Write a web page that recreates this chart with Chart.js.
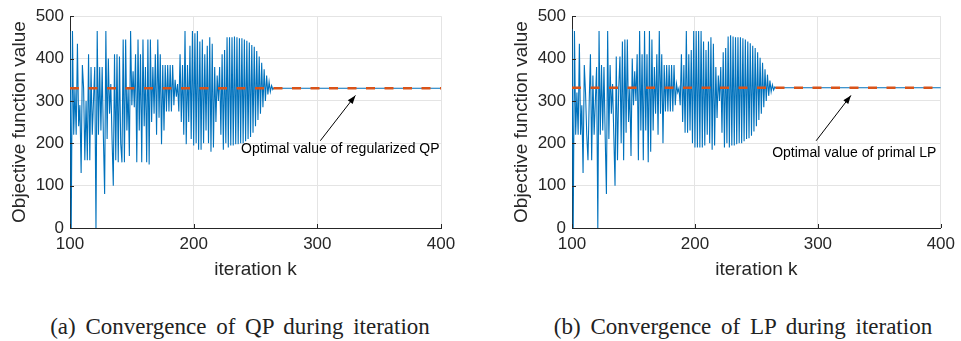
<!DOCTYPE html>
<html>
<head>
<meta charset="utf-8">
<script src="https://cdn.jsdelivr.net/npm/chart.js@4/dist/chart.umd.min.js"></script>
<style>
  body { margin: 0; background: #fff; width: 961px; height: 341px; overflow: hidden; position: relative; }
  canvas { position: absolute; top: 0; }
  #qp { left: 0; }
  #lp { left: 502px; }
  .caption { position: absolute; top: 314px; width: 480px; text-align: center;
             font-family: "Liberation Serif", serif; font-size: 23px; word-spacing: 4px; color: #222; }
</style>
</head>
<body>
<canvas id="qp" width="480" height="290"></canvas>
<canvas id="lp" width="459" height="290"></canvas>
<div class="caption" style="left:0">(a) Convergence of QP during iteration</div>
<div class="caption" style="left:503px">(b) Convergence of LP during iteration</div>
<script>
// iteracije krecu od 100, jedna vrijednost po iteraciji
const startIter = 100;
const endIter = 400;
const xTicks = [100, 200, 300, 400];
const yTicks = [0, 100, 200, 300, 400, 500];

// (a) QP, k = 100 .. 266
const qpValues = [
  465, 0, 465, 220, 330, 220, 435, 240, 290, 130,
  385, 330, 160, 300, 160, 410, 160, 380, 220, 300,
  380, 0, 465, 220, 380, 230, 380, 215, 80, 465,
  210, 400, 270, 340, 210, 100, 410, 160, 410, 155,
  405, 200, 155, 445, 155, 445, 230, 330, 170, 465,
  290, 370, 285, 410, 155, 445, 230, 410, 155, 445,
  240, 380, 155, 445, 150, 445, 250, 380, 270, 410,
  220, 445, 260, 410, 198, 385, 230, 385, 275, 385,
  275, 385, 275, 385, 290, 350, 310, 340, 275, 410,
  250, 385, 220, 465, 198, 385, 250, 430, 210, 465,
  195, 460, 200, 465, 185, 440, 185, 445, 200, 410,
  230, 430, 200, 450, 180, 435, 190, 380, 250, 360,
  300, 380, 220, 410, 185, 420, 200, 450, 190, 450,
  195, 450, 195, 452, 198, 450, 198, 448, 200, 448,
  200, 445, 205, 442, 210, 438, 215, 432, 225, 428,
  240, 418, 255, 405, 270, 390, 285, 375, 300, 360,
  315, 345, 322, 336, 327, 331, 330
];
const qpOptimal = 330;

// (b) LP, k = 100 .. 268
const lpValues = [
  470, 0, 465, 220, 320, 220, 435, 220, 290, 130,
  385, 320, 220, 160, 300, 410, 160, 360, 220, 300,
  380, 0, 465, 220, 385, 230, 380, 215, 80, 465,
  210, 385, 270, 340, 220, 100, 405, 160, 330, 405,
  200, 440, 160, 445, 225, 445, 250, 330, 170, 400,
  290, 370, 300, 410, 160, 465, 230, 410, 160, 465,
  230, 410, 155, 465, 180, 445, 230, 380, 270, 410,
  220, 465, 270, 410, 200, 385, 275, 385, 275, 385,
  275, 385, 275, 385, 290, 340, 320, 330, 290, 410,
  250, 385, 225, 465, 225, 410, 230, 420, 200, 465,
  190, 465, 190, 465, 190, 465, 190, 440, 195, 420,
  220, 440, 200, 450, 185, 435, 195, 380, 260, 360,
  300, 380, 225, 415, 190, 425, 200, 452, 190, 455,
  195, 452, 195, 450, 198, 450, 200, 450, 200, 448,
  205, 445, 210, 440, 212, 436, 218, 430, 228, 425,
  240, 415, 255, 402, 270, 390, 285, 375, 300, 362,
  312, 348, 322, 338, 326, 333, 330, 331, 331
];
const lpOptimal = 331;

const axisColor = '#262626';
const sans = '"Liberation Sans", Arial, sans-serif';

// anotacija sa strelicom (koordinate u jedinicama osa)
const notePlugin = {
  id: 'note',
  afterDatasetsDraw(chart, args, opts) {
    const c = chart.ctx, xs = chart.scales.x, ys = chart.scales.y;
    // unutrasnji tickovi kao u MATLAB-u
    c.save();
    c.strokeStyle = axisColor;
    c.lineWidth = 1;
    xTicks.forEach(v => {
      const px = Math.round(xs.getPixelForValue(v)) + 0.5;
      c.beginPath(); c.moveTo(px, ys.bottom); c.lineTo(px, ys.bottom - 4); c.stroke();
    });
    yTicks.forEach(v => {
      const py = Math.round(ys.getPixelForValue(v)) + 0.5;
      c.beginPath(); c.moveTo(xs.left, py); c.lineTo(xs.left + 4, py); c.stroke();
    });
    // strelica
    const x0 = xs.getPixelForValue(opts.from[0]), y0 = ys.getPixelForValue(opts.from[1]);
    const x1 = xs.getPixelForValue(opts.to[0]), y1 = ys.getPixelForValue(opts.to[1]);
    c.strokeStyle = '#000';
    c.fillStyle = '#000';
    c.beginPath(); c.moveTo(x0, y0); c.lineTo(x1, y1); c.stroke();
    const ang = Math.atan2(y1 - y0, x1 - x0);
    c.beginPath();
    c.moveTo(x1, y1);
    c.lineTo(x1 - 9 * Math.cos(ang - 0.35), y1 - 9 * Math.sin(ang - 0.35));
    c.lineTo(x1 - 9 * Math.cos(ang + 0.35), y1 - 9 * Math.sin(ang + 0.35));
    c.closePath(); c.fill();
    c.font = '14px ' + sans;
    c.textAlign = 'center';
    c.textBaseline = 'middle';
    c.fillText(opts.text, xs.getPixelForValue(opts.at[0]), ys.getPixelForValue(opts.at[1]));
    c.restore();
  }
};

function nacrtaj(id, values, optimal, padRight, note) {
  const points = values.map((v, i) => ({ x: startIter + i, y: v }));
  points.push({ x: endIter, y: optimal });

  new Chart(document.getElementById(id), {
    type: 'line',
    data: {
      datasets: [
        {
          data: [{ x: startIter, y: optimal }, { x: endIter, y: optimal }],
          borderColor: '#D95319',
          borderWidth: 2.6,
          borderDash: [9, 9.5],
          pointRadius: 0,
          order: 0
        },
        {
          data: points,
          borderColor: '#0072BD',
          borderWidth: 1.1,
          pointRadius: 0,
          tension: 0,
          order: 1
        }
      ]
    },
    options: {
      responsive: false,
      animation: false,
      layout: { padding: { top: 14, right: padRight, bottom: 0, left: 0 } },
      plugins: { legend: { display: false }, tooltip: { enabled: false }, note: note },
      scales: {
        x: {
          type: 'linear',
          min: startIter,
          max: endIter,
          afterBuildTicks: s => { s.ticks = xTicks.map(v => ({ value: v })); },
          afterFit: s => { s.height = 62; },
          ticks: { color: axisColor, font: { family: sans, size: 17 }, padding: 6, maxRotation: 0 },
          grid: { color: '#e4e4e4', drawTicks: false },
          border: { color: axisColor, width: 1 },
          title: { display: true, text: 'iteration k', color: axisColor,
                   font: { family: sans, size: 19 }, padding: { top: 0, bottom: 9 } }
        },
        y: {
          min: 0,
          max: 500,
          afterBuildTicks: s => { s.ticks = yTicks.map(v => ({ value: v })); },
          afterFit: s => { s.width = 70; },
          ticks: { color: axisColor, font: { family: sans, size: 17 }, padding: 6 },
          grid: { color: '#e4e4e4', drawTicks: false },
          border: { color: axisColor, width: 1 },
          title: { display: true, text: 'Objective function value', color: axisColor,
                   font: { family: sans, size: 19 }, padding: { top: 8, bottom: 0 } }
        }
      }
    },
    plugins: [notePlugin]
  });
}

nacrtaj('qp', qpValues, qpOptimal, 39, {
  text: 'Optimal value of regularized QP', at: [318.6, 185], from: [302.4, 206], to: [330.8, 313]
});
nacrtaj('lp', lpValues, lpOptimal, 18, {
  text: 'Optimal value of primal LP', at: [329.6, 176], from: [298.6, 206], to: [326.9, 313]
});
</script>
</body>
</html>
